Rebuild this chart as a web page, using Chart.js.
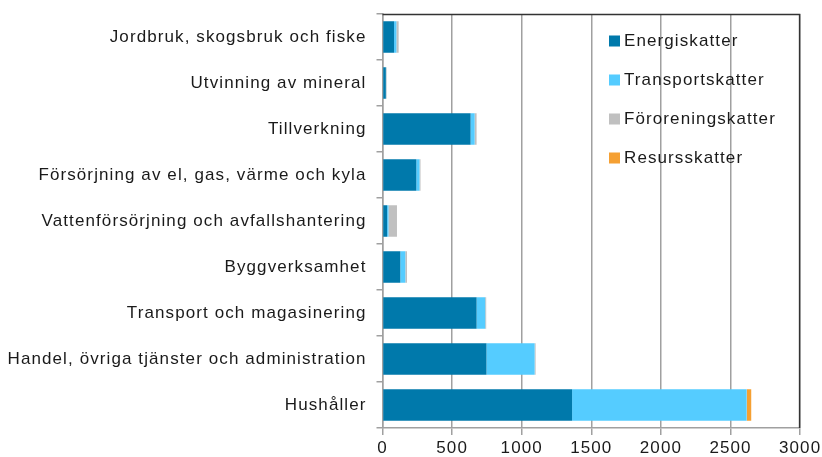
<!DOCTYPE html>
<html>
<head>
<meta charset="utf-8">
<script src="https://cdn.jsdelivr.net/npm/chart.js@4/dist/chart.umd.min.js"></script>
<style>
  body { margin: 0; background: #fff; }
  #wrap { width: 822px; height: 457px; }
</style>
</head>
<body>
<div id="wrap"><canvas id="c"></canvas></div>
<script>
var categories = [
  'Jordbruk, skogsbruk och fiske',
  'Utvinning av mineral',
  'Tillverkning',
  'Försörjning av el, gas, värme och kyla',
  'Vattenförsörjning och avfallshantering',
  'Byggverksamhet',
  'Transport och magasinering',
  'Handel, övriga tjänster och administration',
  'Hushåller'
];
var energiskatter    = [83, 24, 633, 243, 33, 128, 676, 747, 1362];
var transportskatter = [17, 2, 29, 23, 10, 36, 62, 346, 1254];
var fororeningskatter = [16, 4, 14, 7, 61, 12, 7, 7, 2];
var resursskatter    = [0, 0, 0, 0, 0, 0, 0, 0, 31];
var xTicks = [0, 500, 1000, 1500, 2000, 2500, 3000];

var seriesNames = ['Energiskatter', 'Transportskatter', 'Föroreningskatter', 'Resursskatter'];
var seriesColors = ['#0079ab', '#55ccff', '#c0c0c0', '#f5a033'];

Chart.defaults.font.family = '"Liberation Sans", Arial, sans-serif';
Chart.defaults.color = '#1a1a1a';

// wider letter spacing like the original picture
var spacing = {
  id: 'spacing',
  beforeDraw: function(chart) {
    chart.ctx.letterSpacing = '1.1px';
  }
};

// legend drawn inside the plot area, top right, plus top/right frame
var boxLegend = {
  id: 'boxLegend',
  afterDatasetsDraw: function(chart) {
    var ctx = chart.ctx;
    ctx.save();
    ctx.font = '17px "Liberation Sans", Arial, sans-serif';
    ctx.textBaseline = 'middle';
    chart.data.datasets.forEach(function(ds, i) {
      var y = 40.5 + i * 39;
      ctx.fillStyle = ds.backgroundColor;
      ctx.fillRect(609, y - 5, 11, 11);
      ctx.fillStyle = '#1a1a1a';
      ctx.fillText(ds.label, 624, y + 1);
    });
    var a = chart.chartArea;
    ctx.strokeStyle = '#333';
    ctx.lineWidth = 1.5;
    ctx.beginPath();
    ctx.moveTo(a.left, a.top + 0.5);
    ctx.lineTo(a.right - 0.5, a.top + 0.5);
    ctx.lineTo(a.right - 0.5, a.bottom);
    ctx.stroke();
    ctx.restore();
  }
};

var dataLists = [energiskatter, transportskatter, fororeningskatter, resursskatter];

new Chart(document.getElementById('c'), {
  type: 'bar',
  data: {
    labels: categories,
    datasets: dataLists.map(function(d, i) {
      return {
        label: seriesNames[i],
        data: d,
        backgroundColor: seriesColors[i],
        barPercentage: 0.68,
        categoryPercentage: 1.0
      };
    })
  },
  options: {
    indexAxis: 'y',
    responsive: true,
    maintainAspectRatio: false,
    animation: false,
    layout: { padding: { top: 14, right: 19, left: 0, bottom: 0 } },
    plugins: {
      legend: { display: false },
      tooltip: { enabled: false }
    },
    scales: {
      x: {
        stacked: true,
        min: 0,
        max: 3000,
        afterBuildTicks: function(scale) {
          scale.ticks = xTicks.map(function(v) { return { value: v }; });
        },
        afterFit: function(scale) { scale.height = 29; },
        grid: {
          color: '#a0a0a0',
          lineWidth: 1.5,
          tickLength: 7
        },
        border: { color: '#a0a0a0', width: 1.5 },
        ticks: {
          font: { size: 17 },
          padding: 3,
          maxRotation: 0,
          callback: function(v) { return String(v); }
        }
      },
      y: {
        stacked: true,
        afterFit: function(scale) {
          scale.width = 382.5;
          scale.paddingTop = 0;
          scale.paddingBottom = 0;
        },
        grid: {
          offset: true,
          drawOnChartArea: false,
          color: '#a0a0a0',
          lineWidth: 1.5,
          tickLength: 6
        },
        border: { color: '#a0a0a0', width: 1.5 },
        ticks: { font: { size: 17 }, padding: 10 }
      }
    }
  },
  plugins: [spacing, boxLegend]
});
</script>
</body>
</html>
